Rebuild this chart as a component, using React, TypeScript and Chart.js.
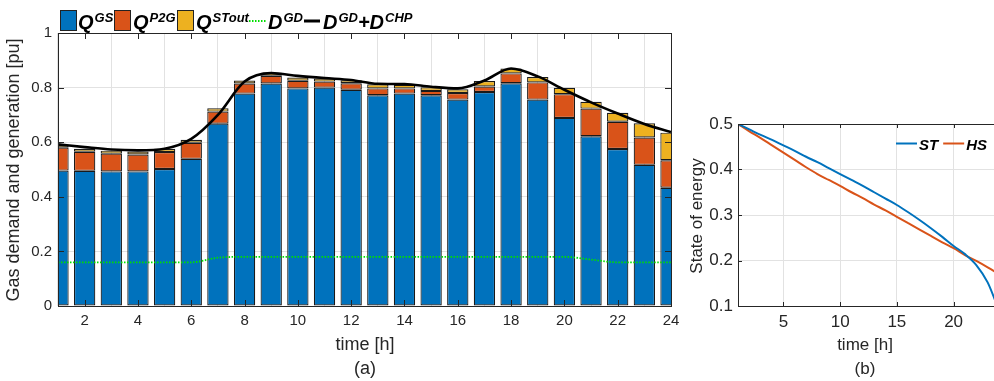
import React, { useEffect, useRef } from 'react';
import { Chart, registerables } from 'chart.js';
Chart.register(...registerables);

// ---------- data ----------
const hours = [1, 2, 3, 4, 5, 6, 7, 8, 9, 10, 11, 12, 13, 14, 15, 16, 17, 18, 19, 20, 21, 22, 23, 24];
const qGS = [0.496, 0.495, 0.493, 0.493, 0.502, 0.539, 0.668, 0.778, 0.815, 0.797, 0.8, 0.792, 0.772, 0.778, 0.772, 0.756, 0.784, 0.816, 0.756, 0.689, 0.622, 0.575, 0.517, 0.433];
const qP2G = [0.084, 0.07, 0.065, 0.062, 0.062, 0.059, 0.044, 0.037, 0.028, 0.028, 0.022, 0.024, 0.025, 0.019, 0.016, 0.024, 0.02, 0.036, 0.063, 0.087, 0.101, 0.1, 0.1, 0.101];
const qSTout = [0.01, 0.011, 0.011, 0.011, 0.012, 0.011, 0.012, 0.011, 0.011, 0.012, 0.011, 0.011, 0.015, 0.013, 0.013, 0.014, 0.02, 0.018, 0.02, 0.023, 0.025, 0.033, 0.052, 0.101];
const dGD = [0.16, 0.16, 0.16, 0.16, 0.16, 0.16, 0.177, 0.18, 0.18, 0.18, 0.18, 0.18, 0.18, 0.18, 0.18, 0.18, 0.18, 0.18, 0.18, 0.18, 0.17, 0.16, 0.16, 0.16];
const dGDCHP = [0.592, 0.582, 0.573, 0.57, 0.576, 0.612, 0.7, 0.822, 0.853, 0.843, 0.835, 0.828, 0.814, 0.813, 0.803, 0.797, 0.826, 0.87, 0.841, 0.792, 0.746, 0.705, 0.667, 0.637];
const leftXTicks = [2, 4, 6, 8, 10, 12, 14, 16, 18, 20, 22, 24];
const leftYTicks = [0, 0.2, 0.4, 0.6, 0.8, 1];

const socST = [0.5, 0.488, 0.476, 0.465, 0.453, 0.441, 0.428, 0.416, 0.403, 0.39, 0.377, 0.364, 0.35, 0.336, 0.322, 0.306, 0.289, 0.271, 0.252, 0.232, 0.214, 0.19, 0.152, 0.09];
const socHS = [0.5, 0.484, 0.469, 0.453, 0.437, 0.421, 0.405, 0.39, 0.377, 0.364, 0.35, 0.337, 0.323, 0.31, 0.296, 0.282, 0.268, 0.254, 0.24, 0.227, 0.212, 0.199, 0.185, 0.17];
const rightXTicks = [5, 10, 15, 20];
const rightYTicks = [0.1, 0.2, 0.3, 0.4, 0.5];

// ---------- styles ----------
const FONT = "'Liberation Sans', Arial, Helvetica, sans-serif";
const BLUE = '#0072BD';
const ORANGE = '#D95319';
const YELLOW = '#EDB120';
const GREEN = '#00e000';
const GRID = '#e2e2e2';
const AXIS = '#262626';

const fmt = (v: number) => String(Math.round(v * 100) / 100);

type TextItem = { text: string; x: number; y: number; size: number; rot?: boolean };

function makeDecor(xTicks: number[], yTicks: number[], tickLen: number, texts: TextItem[], legend?: (ctx: CanvasRenderingContext2D) => void) {
  return {
    id: 'decor',
    afterDraw(chart: any) {
      const { ctx, chartArea: a, scales } = chart;
      ctx.save();
      ctx.strokeStyle = AXIS;
      ctx.lineWidth = 1;
      ctx.beginPath();
      for (const v of xTicks) {
        const px = Math.round(scales.x.getPixelForValue(v)) + 0.5;
        ctx.moveTo(px, a.bottom);
        ctx.lineTo(px, a.bottom - tickLen);
        ctx.moveTo(px, a.top);
        ctx.lineTo(px, a.top + tickLen);
      }
      for (const v of yTicks) {
        const py = Math.round(scales.y.getPixelForValue(v)) + 0.5;
        ctx.moveTo(a.left, py);
        ctx.lineTo(a.left + tickLen, py);
        ctx.moveTo(a.right, py);
        ctx.lineTo(a.right - tickLen, py);
      }
      ctx.stroke();
      ctx.strokeRect(Math.round(a.left) + 0.5, Math.round(a.top) + 0.5, Math.round(a.right - a.left), Math.round(a.bottom - a.top));
      ctx.fillStyle = AXIS;
      ctx.textAlign = 'center';
      ctx.textBaseline = 'middle';
      for (const t of texts) {
        ctx.font = `${t.size}px ${FONT}`;
        if (t.rot) {
          ctx.save();
          ctx.translate(t.x, t.y);
          ctx.rotate(-Math.PI / 2);
          ctx.fillText(t.text, 0, 0);
          ctx.restore();
        } else {
          ctx.fillText(t.text, t.x, t.y);
        }
      }
      if (legend) legend(ctx);
      ctx.restore();
    },
  };
}

const legendQGS: [string, boolean][] = [['Q', false], ['GS', true]];
const legendQP2G: [string, boolean][] = [['Q', false], ['P2G', true]];
const legendQST: [string, boolean][] = [['Q', false], ['STout', true]];
const legendDGD: [string, boolean][] = [['D', false], ['GD', true]];
const legendDGDCHP: [string, boolean][] = [['D', false], ['GD', true], ['+D', false], ['CHP', true]];

function drawLeftLegend(ctx: CanvasRenderingContext2D) {
  const big = `italic bold 20px ${FONT}`;
  const small = `italic bold 13px ${FONT}`;
  ctx.textAlign = 'left';
  ctx.textBaseline = 'alphabetic';
  const patch = (x: number, color: string) => {
    ctx.fillStyle = color;
    ctx.fillRect(x, 10, 17, 21);
    ctx.strokeStyle = '#222';
    ctx.lineWidth = 1;
    ctx.strokeRect(x + 0.5, 10.5, 16, 20);
  };
  const label = (x: number, parts: [string, boolean][]) => {
    let cx = x;
    ctx.fillStyle = '#000';
    for (const [txt, sup] of parts) {
      ctx.font = sup ? small : big;
      ctx.fillText(txt, cx, sup ? 22 : 29);
      cx += ctx.measureText(txt).width + (sup ? 0 : 1);
    }
  };
  patch(60, BLUE);
  label(78, legendQGS);
  patch(114, ORANGE);
  label(133, legendQP2G);
  patch(177, YELLOW);
  label(196, legendQST);
  ctx.strokeStyle = GREEN;
  ctx.lineWidth = 1.8;
  ctx.setLineDash([1.5, 1.5]);
  ctx.beginPath();
  ctx.moveTo(249, 21);
  ctx.lineTo(267, 21);
  ctx.stroke();
  ctx.setLineDash([]);
  label(268, legendDGD);
  ctx.strokeStyle = '#000';
  ctx.lineWidth = 3;
  ctx.beginPath();
  ctx.moveTo(304, 21);
  ctx.lineTo(320, 21);
  ctx.stroke();
  label(323, legendDGDCHP);
}

const legendRight: [string, string][] = [['ST', BLUE], ['HS', ORANGE]];

function drawRightLegend(ctx: CanvasRenderingContext2D) {
  // canvas offset: page x 680
  ctx.textAlign = 'left';
  ctx.textBaseline = 'alphabetic';
  ctx.font = `italic bold 15px ${FONT}`;
  let x = 896 - 680;
  for (const [name, color] of legendRight) {
    ctx.strokeStyle = color;
    ctx.lineWidth = 2;
    ctx.beginPath();
    ctx.moveTo(x, 143.5);
    ctx.lineTo(x + 21, 143.5);
    ctx.stroke();
    ctx.fillStyle = '#000';
    ctx.fillText(name, x + 23, 149.5);
    x += 23 + ctx.measureText(name).width + 5;
  }
}

function LeftChart() {
  const ref = useRef<HTMLCanvasElement>(null);
  useEffect(() => {
    const pts = (arr: number[]) => hours.map((h, i) => ({ x: h, y: arr[i] }));
    const barCommon = {
      type: 'bar' as const,
      stack: 'q',
      borderColor: '#1a1a1a',
      borderWidth: 1.2,
      borderSkipped: false,
      barPercentage: 0.8,
      categoryPercentage: 1.0,
      order: 2,
    };
    const chart = new Chart(ref.current!, {
      type: 'bar',
      data: {
        datasets: [
          { ...barCommon, label: 'QGS', data: pts(qGS), backgroundColor: BLUE },
          { ...barCommon, label: 'QP2G', data: pts(qP2G), backgroundColor: ORANGE },
          { ...barCommon, label: 'QSTout', data: pts(qSTout), backgroundColor: YELLOW },
          {
            type: 'line', label: 'DGD', stack: 'l1', data: pts(dGD), borderColor: GREEN, borderWidth: 1.8,
            borderDash: [1.5, 1.5], pointRadius: 0, cubicInterpolationMode: 'monotone', order: 1,
          },
          {
            type: 'line', label: 'DGD+DCHP', stack: 'l2', data: pts(dGDCHP), borderColor: '#000', borderWidth: 2.6,
            pointRadius: 0, cubicInterpolationMode: 'monotone', order: 0,
          },
        ] as any,
      },
      options: {
        responsive: false,
        animation: false,
        layout: { padding: { left: 0, right: 19, top: 33, bottom: 0 } },
        plugins: { legend: { display: false }, tooltip: { enabled: false } },
        scales: {
          x: {
            type: 'linear', min: 1, max: 24, offset: false, stacked: true,
            afterBuildTicks: (s: any) => { s.ticks = leftXTicks.map((v) => ({ value: v })); },
            afterFit: (s: any) => { s.height = 75; },
            grid: { color: GRID, drawTicks: false },
            border: { display: false },
            ticks: { color: AXIS, font: { family: FONT, size: 15 }, padding: 6, maxRotation: 0, autoSkip: false, callback: (v: number) => fmt(v) },
          },
          y: {
            min: 0, max: 1, stacked: true,
            afterBuildTicks: (s: any) => { s.ticks = leftYTicks.map((v) => ({ value: v })); },
            afterFit: (s: any) => { s.width = 58; },
            grid: { color: GRID, drawTicks: false },
            border: { display: false },
            ticks: { color: AXIS, font: { family: FONT, size: 15 }, padding: 6, callback: (v: number) => fmt(v) },
          },
        },
      } as any,
      plugins: [
        makeDecor(leftXTicks, leftYTicks, 6, [
          { text: 'Gas demand and generation [pu]', x: 14, y: 170, size: 18, rot: true },
          { text: 'time [h]', x: 365, y: 345, size: 18 },
          { text: '(a)', x: 365, y: 369, size: 18 },
        ], drawLeftLegend),
      ],
    });
    return () => chart.destroy();
  }, []);
  return <canvas ref={ref} width={690} height={381} style={{ position: 'absolute', left: 0, top: 0, display: 'block' }} />;
}

function RightChart() {
  const ref = useRef<HTMLCanvasElement>(null);
  useEffect(() => {
    const pts = (arr: number[]) => hours.map((h, i) => ({ x: h, y: arr[i] }));
    const chart = new Chart(ref.current!, {
      type: 'line',
      data: {
        datasets: [
          { label: 'ST', data: pts(socST), borderColor: BLUE, borderWidth: 2, pointRadius: 0, cubicInterpolationMode: 'monotone' },
          { label: 'HS', data: pts(socHS), borderColor: ORANGE, borderWidth: 2, pointRadius: 0, cubicInterpolationMode: 'monotone' },
        ],
      },
      options: {
        responsive: false,
        animation: false,
        layout: { padding: { left: 0, right: 21, top: 124, bottom: 0 } },
        plugins: { legend: { display: false }, tooltip: { enabled: false } },
        scales: {
          x: {
            type: 'linear', min: 1, max: 24,
            afterBuildTicks: (s: any) => { s.ticks = rightXTicks.map((v) => ({ value: v })); },
            afterFit: (s: any) => { s.height = 75; },
            grid: { color: GRID, drawTicks: false },
            border: { display: false },
            ticks: { color: AXIS, font: { family: FONT, size: 17 }, padding: 6, maxRotation: 0, autoSkip: false, callback: (v: number) => fmt(v) },
          },
          y: {
            min: 0.1, max: 0.5,
            afterBuildTicks: (s: any) => { s.ticks = rightYTicks.map((v) => ({ value: v })); },
            afterFit: (s: any) => { s.width = 58; },
            grid: { color: GRID, drawTicks: false },
            border: { display: false },
            ticks: { color: AXIS, font: { family: FONT, size: 17 }, padding: 5, callback: (v: number) => fmt(v) },
          },
        },
      } as any,
      plugins: [
        makeDecor(rightXTicks, rightYTicks, 4, [
          { text: 'State of energy', x: 17, y: 216, size: 17, rot: true },
          { text: 'time [h]', x: 185, y: 345, size: 17 },
          { text: '(b)', x: 185, y: 369, size: 17 },
        ], drawRightLegend),
      ],
    });
    return () => chart.destroy();
  }, []);
  return <canvas ref={ref} width={340} height={381} style={{ position: 'absolute', left: 680, top: 0, display: 'block' }} />;
}

export default function App() {
  return (
    <div style={{ position: 'fixed', left: 0, top: 0, width: 994, height: 381, overflow: 'hidden', background: '#fff' }}>
      <LeftChart />
      <RightChart />
    </div>
  );
}
